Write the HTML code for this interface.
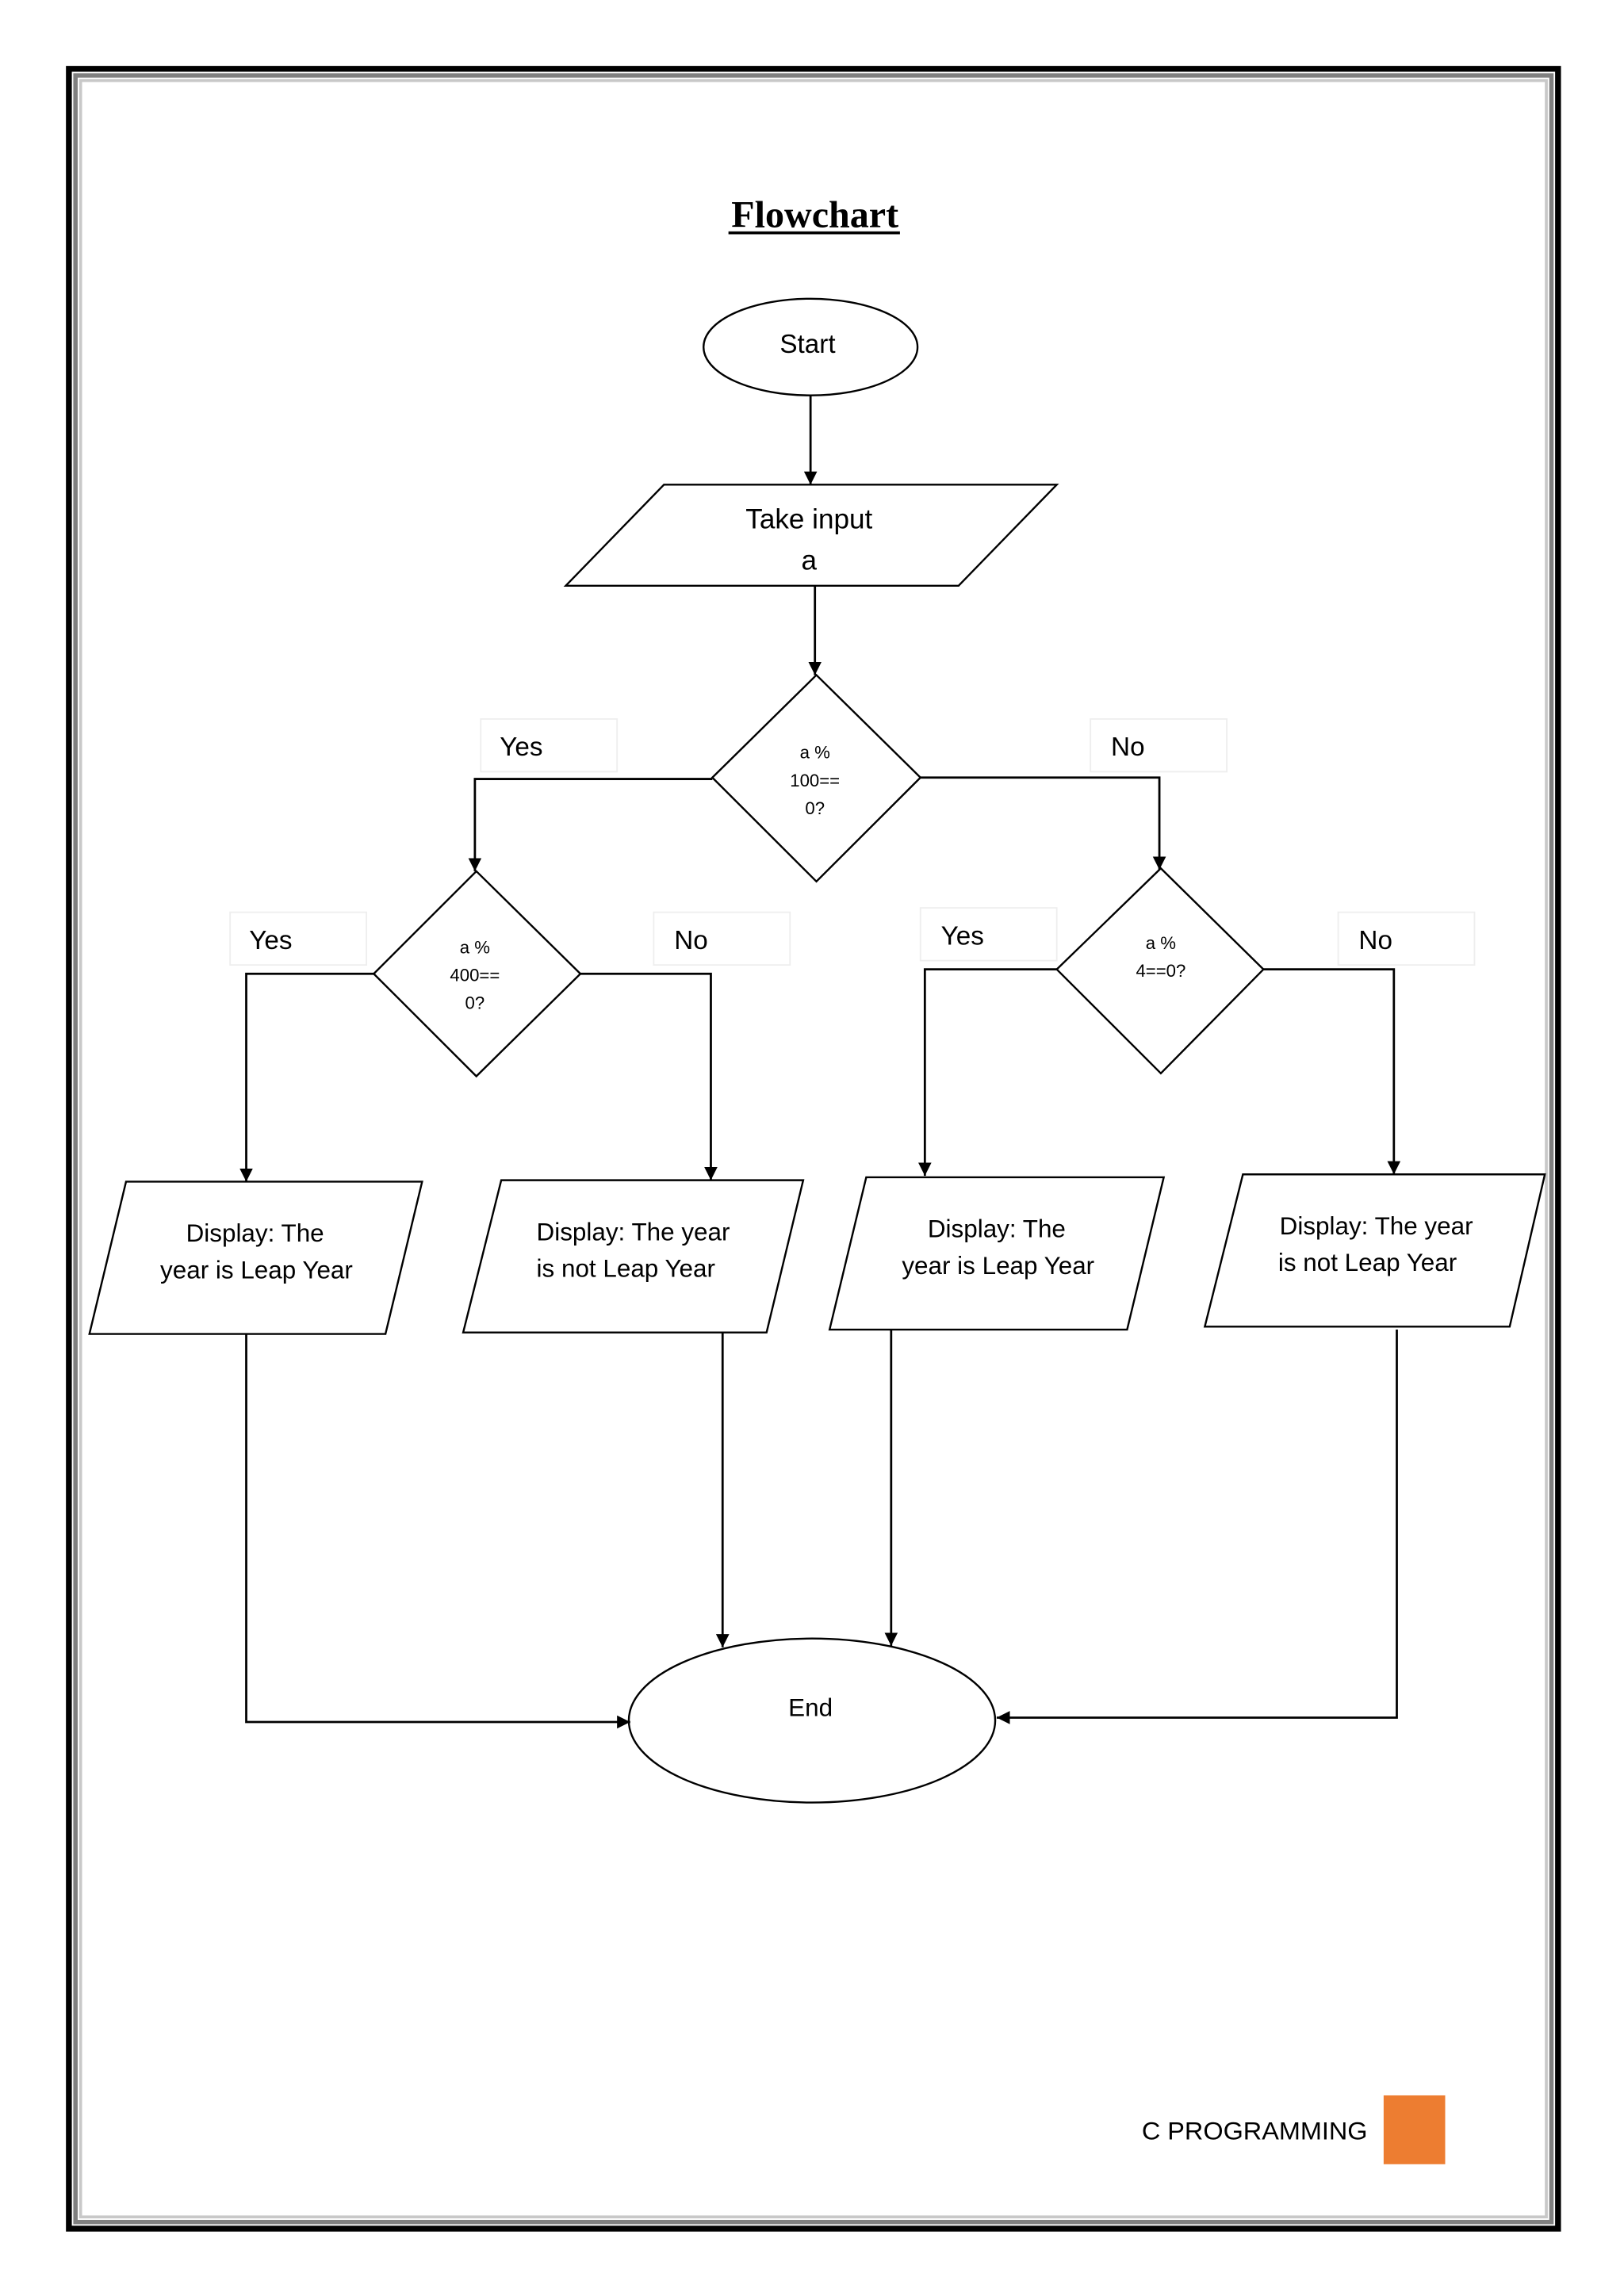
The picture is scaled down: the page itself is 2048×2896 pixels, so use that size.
<!DOCTYPE html>
<html><head><meta charset="utf-8"><style>
html,body{margin:0;padding:0;background:#fff}
svg{display:block}
text{font-family:"Liberation Sans",sans-serif;fill:#000}
</style></head><body>
<svg width="2048" height="2896" viewBox="0 0 1108 1568" preserveAspectRatio="none" xmlns="http://www.w3.org/2000/svg">
<defs><marker id="a" viewBox="0 0 10 10" refX="10" refY="5" markerWidth="9" markerHeight="9" markerUnits="userSpaceOnUse" orient="auto"><path d="M0,0L10,5L0,10z" fill="#000"/></marker></defs>
<rect x="47" y="47" width="1016" height="1475" fill="none" stroke="#000" stroke-width="4"/>
<rect x="51.5" y="51.5" width="1007" height="1466" fill="none" stroke="#7f7f7f" stroke-width="3"/>
<rect x="55" y="55" width="1000" height="1459" fill="none" stroke="#c8c8c8" stroke-width="2"/>
<text x="556" y="155" text-anchor="middle" style="font-family:'Liberation Serif',serif;font-weight:bold;font-size:26px">Flowchart</text>
<line x1="497" y1="159" x2="614" y2="159" stroke="#000" stroke-width="2"/>
<g fill="#fff" stroke="#000" stroke-width="1.3">
<ellipse cx="553" cy="237" rx="73" ry="33"/>
<polygon points="453,331 721,331 654,400 386,400"/>
<polygon points="557,461 628,531 557,602 486,531"/>
<polygon points="325,595 396,665 325,735 255,665"/>
<polygon points="792,593 862,662 792,733 721,662"/>
<polygon points="86,807 288,807 263,911 61,911"/>
<polygon points="342,806 548,806 523,910 316,910"/>
<polygon points="591,804 794,804 769,908 566,908"/>
<polygon points="848,802 1054,802 1030,906 822,906"/>
<ellipse cx="554" cy="1175" rx="125" ry="56"/>
</g>
<g fill="#fff" stroke="#eee" stroke-width="1">
<rect x="328" y="491" width="93" height="36"/><rect x="744" y="491" width="93" height="36"/>
<rect x="157" y="623" width="93" height="36"/><rect x="446" y="623" width="93" height="36"/>
<rect x="628" y="620" width="93" height="36"/><rect x="913" y="623" width="93" height="36"/>
</g>
<g fill="none" stroke="#000" stroke-width="1.5">
<path d="M553,270V331" marker-end="url(#a)"/>
<path d="M556,400V461" marker-end="url(#a)"/>
<path d="M486,532H324V595" marker-end="url(#a)"/>
<path d="M628,531H791V594" marker-end="url(#a)"/>
<path d="M255,665H168V807" marker-end="url(#a)"/>
<path d="M396,665H485V806" marker-end="url(#a)"/>
<path d="M721,662H631V803" marker-end="url(#a)"/>
<path d="M862,662H951V802" marker-end="url(#a)"/>
<path d="M168,911V1176H430" marker-end="url(#a)"/>
<path d="M493,910V1125" marker-end="url(#a)"/>
<path d="M608,908V1124" marker-end="url(#a)"/>
<path d="M953,908V1173H680" marker-end="url(#a)"/>
</g>
<g text-anchor="middle">
<text x="551" y="241" font-size="18">Start</text>
<text x="552" y="361" font-size="19">Take input</text>
<text x="552" y="389" font-size="19">a</text>
<text x="556" y="518" font-size="12">a %</text><text x="556" y="537" font-size="12">100==</text><text x="556" y="556" font-size="12">0?</text>
<text x="324" y="651" font-size="12">a %</text><text x="324" y="670" font-size="12">400==</text><text x="324" y="689" font-size="12">0?</text>
<text x="792" y="648" font-size="12">a %</text><text x="792" y="667" font-size="12">4==0?</text>
<g font-size="17">
<text x="174" y="848">Display: The</text><text x="175" y="873">year is Leap Year</text>
<text x="432" y="847">Display: The year</text><text x="427" y="872">is not Leap Year</text>
<text x="680" y="845">Display: The</text><text x="681" y="870">year is Leap Year</text>
<text x="939" y="843">Display: The year</text><text x="933" y="868">is not Leap Year</text>
<text x="553" y="1172">End</text>
</g>
</g>
<g font-size="18">
<text x="341" y="516">Yes</text><text x="758" y="516">No</text>
<text x="170" y="648">Yes</text><text x="460" y="648">No</text>
<text x="642" y="645">Yes</text><text x="927" y="648">No</text>
</g>
<text x="779" y="1461" font-size="17" textLength="154" lengthAdjust="spacingAndGlyphs">C PROGRAMMING</text>
<rect x="944" y="1431" width="42" height="47" fill="#ED7D31"/>
</svg>
</body></html>
